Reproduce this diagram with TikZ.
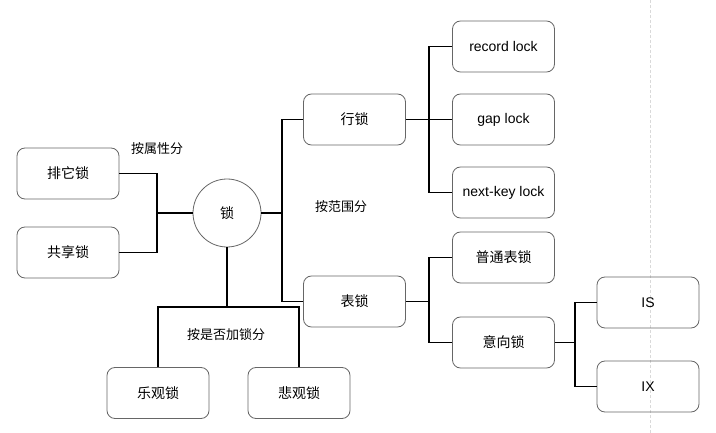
\documentclass[tikz,border=0pt]{standalone}
\usepackage{fontspec}
\setmainfont{Liberation Sans}
\newfontfamily\cjk{Noto Sans CJK SC}
\usepackage{tikz}

\begin{document}
\begin{tikzpicture}[x=1pt,y=-1pt,
  lockbox/.style={draw=black!60, line width=0.8pt, rounded corners=8pt, minimum width=102pt, minimum height=51pt, font=\fontsize{14}{16}\selectfont},
  tag/.style={font=\cjk\fontsize{13}{15}\selectfont},
  wire/.style={line width=1.6pt}]
\useasboundingbox (0,0) rectangle (716,433);
% page edge
\draw[black!15, line width=1pt, dash pattern=on 3pt off 2pt] (650,0) -- (650,433);

% root
\node[circle, draw=black!60, line width=0.8pt, minimum size=68pt, font=\cjk\fontsize{14}{16}\selectfont] (suo) at (227,213) {锁};

% by attribute
\node[lockbox] (paita) at (68,173.5) {\cjk 排它锁};
\node[lockbox] (gongxiang) at (68,252.5) {\cjk 共享锁};
\node[tag] (shuxing) at (157,149) {按属性分};

% by range
\node[lockbox] (hang) at (354.5,119.5) {\cjk 行锁};
\node[lockbox] (biao) at (354.5,301.5) {\cjk 表锁};
\node[tag] (fanwei) at (341,207) {按范围分};
\node[lockbox] (record) at (503.5,46.5) {record lock};
\node[lockbox] (gap) at (503.5,119.5) {gap lock};
\node[lockbox] (nextkey) at (503.5,192.5) {next-key lock};
\node[lockbox] (putong) at (503.5,257.5) {\cjk 普通表锁};
\node[lockbox] (yixiang) at (503.5,342.5) {\cjk 意向锁};
\node[lockbox] (is) at (648,302.5) {IS};
\node[lockbox] (ix) at (648,386.5) {IX};

% by locking
\node[lockbox] (leguan) at (158,393) {\cjk 乐观锁};
\node[lockbox] (beiguan) at (299,393) {\cjk 悲观锁};
\node[tag] (jiasuo) at (226,335) {按是否加锁分};

% junctions
\coordinate (j1) at (157,213);
\coordinate (j2) at (282,213);
\coordinate (j3) at (429,119.5);
\coordinate (j4) at (429,301.5);
\coordinate (j5) at (575,342.5);
\coordinate (j6) at (227,307);

\draw[wire] (paita.east) -| (j1) -- (suo.west);
\draw[wire] (gongxiang.east) -| (j1);
\draw[wire] (suo.east) -- (j2) |- (hang.west);
\draw[wire] (j2) |- (biao.west);
\draw[wire] (hang.east) -- (j3) |- (record.west);
\draw[wire] (j3) -- (gap.west);
\draw[wire] (j3) |- (nextkey.west);
\draw[wire] (biao.east) -- (j4) |- (putong.west);
\draw[wire] (j4) |- (yixiang.west);
\draw[wire] (yixiang.east) -- (j5) |- (is.west);
\draw[wire] (j5) |- (ix.west);
\draw[wire] (suo.south) -- (j6) -| (leguan.north);
\draw[wire] (j6) -| (beiguan.north);

\end{tikzpicture}
\end{document}
